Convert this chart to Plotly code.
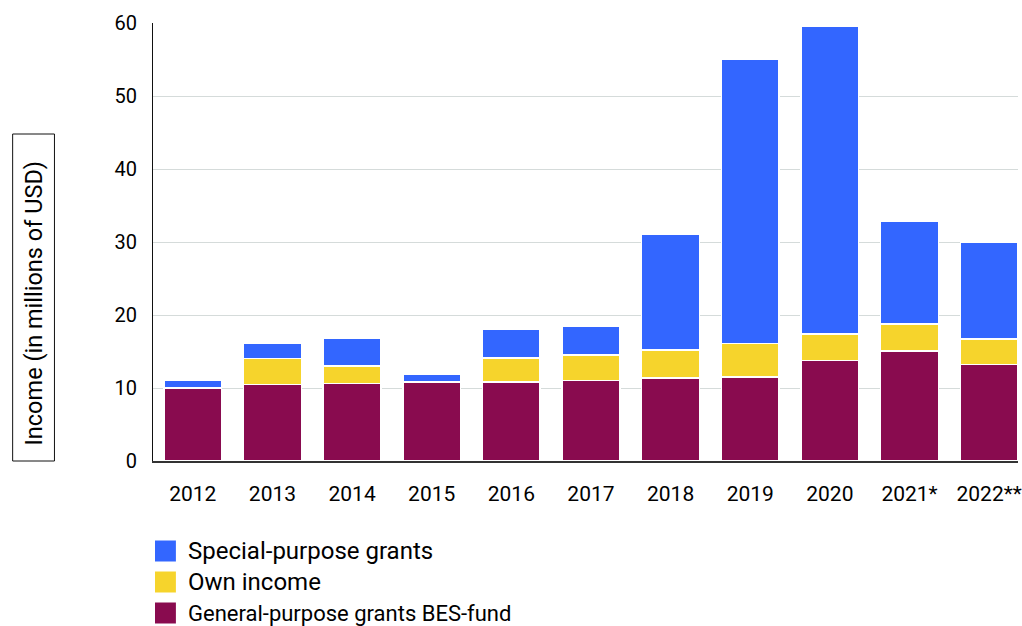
import plotly.graph_objects as go

years = ["2012", "2013", "2014", "2015", "2016", "2017", "2018", "2019", "2020", "2021*", "2022**"]
general = [10.0, 10.5, 10.6, 10.8, 10.8, 11.0, 11.4, 11.5, 13.8, 15.1, 13.2]
own = [0.0, 3.55, 2.4, 0.0, 3.3, 3.55, 3.8, 4.6, 3.6, 3.7, 3.5]
special = [1.1, 2.05, 3.75, 1.15, 4.0, 3.95, 15.8, 39.0, 42.2, 14.0, 13.2]

series = [
    ("General-purpose grants BES-fund", general, "#890B4F"),
    ("Own income", own, "#F6D42C"),
    ("Special-purpose grants", special, "#3366FF"),
]

W, H = 1022, 626
L, R, T, B = 153, 0, 23, 165
pw, ph = W - L - R, H - T - B

def px(x):
    return (x - L) / pw

def py(y):
    return (H - B - y) / ph

fig = go.Figure()
for name, vals, col in series:
    fig.add_trace(go.Bar(
        x=years, y=vals, name=name, marker_color=col,
        marker_line=dict(color="white", width=1.5), showlegend=False,
    ))

font = "Roboto, Arial, sans-serif"
fig.update_layout(
    width=W, height=H, margin=dict(l=L, r=R, t=T, b=B),
    barmode="stack", bargap=0.275,
    plot_bgcolor="white", paper_bgcolor="white",
    font=dict(family=font, size=20, color="#000000"),
    xaxis=dict(range=[-0.5, -0.5 + pw / 80.0], showline=True, linecolor="#333333",
               linewidth=1.5, ticks="", ticklabelstandoff=13,
               tickfont=dict(size=21)),
    yaxis=dict(range=[0, 60], dtick=10, showline=True, linecolor="#111111",
               linewidth=1, gridcolor="#d5dbda", gridwidth=1.4, ticks="",
               ticklabelstandoff=11, tickfont=dict(size=20), zeroline=False),
)

# boxed y-axis title
fig.add_shape(type="rect", xref="paper", yref="paper",
              x0=px(12), x1=px(54), y0=py(461), y1=py(134),
              line=dict(color="#111111", width=1), fillcolor="rgba(0,0,0,0)")
fig.add_annotation(xref="paper", yref="paper", x=px(33), y=py(303),
                   text="Income (in millions of USD)", textangle=-90,
                   showarrow=False, font=dict(size=23.5, family=font),
                   xanchor="center", yanchor="middle")

# custom legend
legend_items = [("Special-purpose grants", "#3366FF", 551, 24),
                ("Own income", "#F6D42C", 582, 24),
                ("General-purpose grants BES-fund", "#890B4F", 613, 22)]
for text, col, yc, fs in legend_items:
    fig.add_shape(type="rect", xref="paper", yref="paper",
                  x0=px(155), x1=px(176), y0=py(yc + 10.5), y1=py(yc - 10.5),
                  line=dict(width=0), fillcolor=col)
    fig.add_annotation(xref="paper", yref="paper", x=px(186), y=py(yc),
                       text=text, showarrow=False, xanchor="left", yanchor="middle",
                       font=dict(size=fs, family=font))

fig.write_html("out.html")
